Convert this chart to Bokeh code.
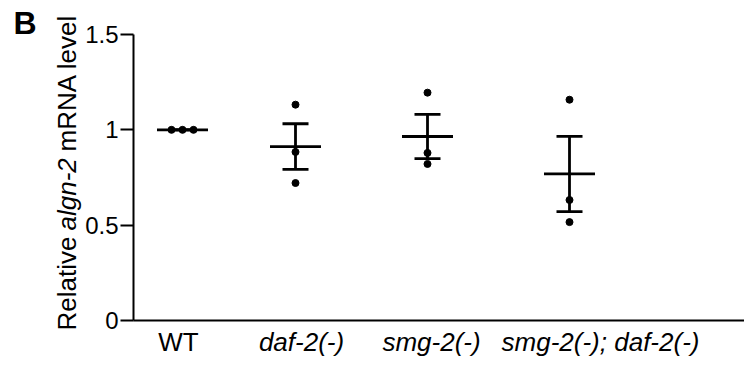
import numpy as np
from bokeh.plotting import figure
from bokeh.models import Label, Range1d, FixedTicker
from bokeh.embed import file_html
from bokeh.resources import INLINE

# ---------------- data ----------------
groups = ["WT", "daf-2(-)", "smg-2(-)", "smg-2(-); daf-2(-)"]
group_italic = [False, True, True, True]
wt_vals = [1.0, 1.0, 1.0]
daf2_vals = [1.132, 0.884, 0.721]
smg2_vals = [1.195, 0.879, 0.821]
double_vals = [1.158, 0.632, 0.516]
all_vals = [wt_vals, daf2_vals, smg2_vals, double_vals]
y_ticks = [0, 0.5, 1, 1.5]
y_tick_labels = ["0", "0.5", "1", "1.5"]

# ---------------- layout (x in units of 100 px) ----------------
group_x = [0.49, 1.62, 2.94, 4.36]
label_x = [0.45, 1.68, 2.98, 4.67]
spread = [[-0.11, 0.0, 0.11], [0, 0, 0], [0, 0, 0], [0, 0, 0]]
mean_hw = 0.255
cap_hw = 0.13

FONT = "Liberation Sans"
W, H = 744, 365
X0_PX, Y0_PX, Y15_PX = 133, 320, 34        # canvas pixels of x=0, y=0, y=1.5
px_per_x = 100.0
px_per_y = (Y0_PX - Y15_PX) / 1.5


def cx(pix):
    return (pix - X0_PX) / px_per_x


def cy(pix):
    return (Y0_PX - pix) / px_per_y


x_max = cx(W)
p = figure(width=W, height=H, x_range=Range1d(cx(0), x_max),
           y_range=Range1d(cy(H), cy(0)), output_backend="svg", toolbar_location=None,
           min_border=0, min_border_left=0, min_border_right=0, min_border_top=0,
           min_border_bottom=0)
p.outline_line_color = None
p.xgrid.visible = False
p.ygrid.visible = False
p.background_fill_color = "white"
p.border_fill_color = "white"

# axes (placed inside the frame at the data origin)
p.yaxis.fixed_location = 0
p.yaxis.bounds = (0, 1.5)
p.yaxis.ticker = FixedTicker(ticks=y_ticks)
p.yaxis.major_label_overrides = {t: l for t, l in zip(y_ticks, y_tick_labels)}
p.yaxis.minor_tick_line_color = None
p.yaxis.major_tick_in = 0
p.yaxis.major_tick_out = 13
p.yaxis.major_tick_line_width = 2
p.yaxis.axis_line_width = 2
p.yaxis.major_label_standoff = 2
p.yaxis.major_label_text_font = FONT
p.yaxis.major_label_text_font_size = "24px"
p.yaxis.major_label_text_color = "black"
p.yaxis.axis_line_color = "black"
p.yaxis.major_tick_line_color = "black"

p.xaxis.fixed_location = 0
p.xaxis.bounds = (0, x_max)
p.xaxis.ticker = FixedTicker(ticks=[])
p.xaxis.minor_tick_line_color = None
p.xaxis.major_tick_line_color = None
p.xaxis.axis_line_width = 2
p.xaxis.axis_line_color = "black"

# ---------------- marks ----------------
px, py = [], []
mx0, mx1, my = [], [], []
ex, elo, ehi = [], [], []
for gx, vals, sp in zip(group_x, all_vals, spread):
    v = np.array(vals, dtype=float)
    m = v.mean()
    sem = v.std(ddof=1) / np.sqrt(len(v))
    for val, s in zip(vals, sp):
        px.append(gx + s)
        py.append(val)
    mx0.append(gx - mean_hw); mx1.append(gx + mean_hw); my.append(m)
    ex.append(gx); elo.append(m - sem); ehi.append(m + sem)

LW = 2.8
p.segment(x0=mx0, y0=my, x1=mx1, y1=my, line_width=LW, line_color="black")
p.segment(x0=ex, y0=elo, x1=ex, y1=ehi, line_width=LW, line_color="black")
capx0 = [x - cap_hw for x in ex]
capx1 = [x + cap_hw for x in ex]
p.segment(x0=capx0, y0=ehi, x1=capx1, y1=ehi, line_width=LW, line_color="black")
p.segment(x0=capx0, y0=elo, x1=capx1, y1=elo, line_width=LW, line_color="black")
p.scatter(x=px, y=py, size=7, color="black")

# ---------------- x category labels ----------------
for lx, g, it in zip(label_x, groups, group_italic):
    p.add_layout(Label(x=lx, y=cy(341), text=g, text_align="center",
                       text_baseline="middle", text_font=FONT,
                       text_font_size="26px", text_color="black",
                       text_font_style="italic" if it else "normal"))

# ---------------- y axis title in three pieces ----------------
title_pieces = ["Relative", "algn-2", "mRNA level"]
title_italic = [False, True, False]
title_start_px = [330, 230, 151]   # canvas y where each piece begins (reads upward)
for t, it, sp_ in zip(title_pieces, title_italic, title_start_px):
    p.add_layout(Label(x=cx(66), y=cy(sp_), text=t, angle=np.pi / 2,
                       text_align="left", text_baseline="middle",
                       text_font=FONT, text_font_size="26px", text_color="black",
                       text_font_style="italic" if it else "normal"))

# panel letter
p.add_layout(Label(x=cx(13), y=cy(4), text="B", text_align="left", text_baseline="top",
                   text_font=FONT, text_font_size="32px", text_font_style="bold",
                   text_color="black"))

open("out.html", "w").write(file_html(p, INLINE))
